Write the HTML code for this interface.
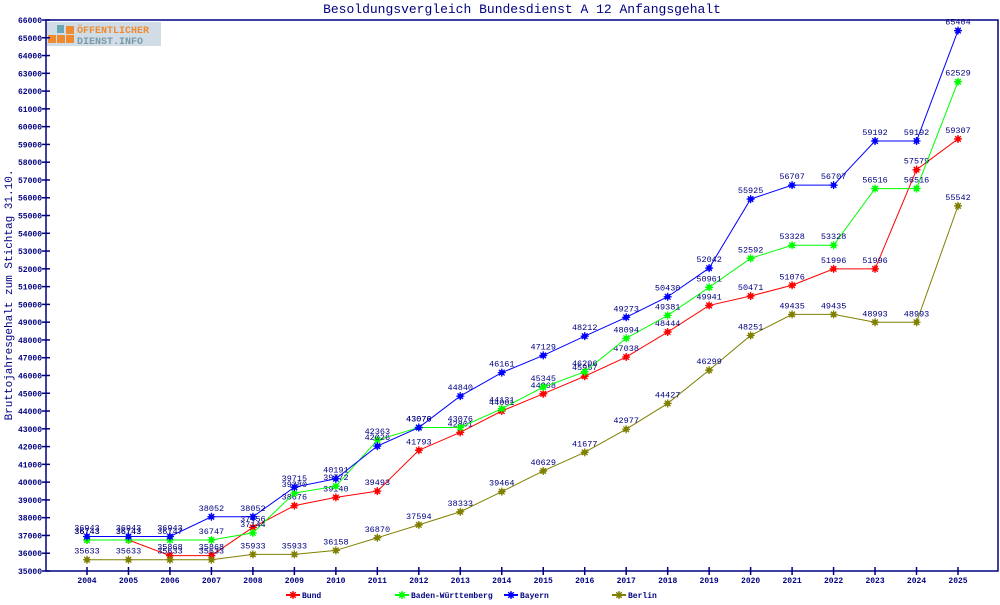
<!DOCTYPE html>
<html><head><meta charset="utf-8"><style>
body{margin:0;background:#fff;width:1000px;height:600px;overflow:hidden}
svg text{font-family:"Liberation Mono",monospace;fill:#000080}
</style></head><body>
<svg id="c" width="1000" height="600">
<text x="522" y="13" text-anchor="middle" font-size="13">Besoldungsvergleich Bundesdienst A 12 Anfangsgehalt</text>
<g>
<rect x="46" y="22" width="115" height="24" fill="#d0dde6"/>
<rect x="48" y="35" width="8" height="8" fill="#f08a30"/><rect x="57" y="35" width="8" height="8" fill="#f08a30"/><rect x="66" y="35" width="8" height="8" fill="#f08a30"/><rect x="66" y="26" width="8" height="8" fill="#f08a30"/><rect x="57" y="25" width="7" height="8" fill="#6aa8b8"/>
<text x="77" y="33" font-size="10" font-weight="bold" style="fill:#f08a30">ÖFFENTLICHER</text>
<text x="77" y="44" font-size="10" font-weight="bold" style="fill:#7a9aaa">DIENST.INFO</text>
</g>
<text transform="translate(12,295) rotate(-90)" text-anchor="middle" font-size="11">Bruttojahresgehalt zum Stichtag 31.10.</text>
<g id="axes"></g><g id="series"></g><g id="legend"></g>
</svg>
<script>
const years=["2004","2005","2006","2007","2008","2009","2010","2011","2012","2013","2014","2015","2016","2017","2018","2019","2020","2021","2022","2023","2024","2025"];
const bund=[36743,36743,35868,35868,37456,38676,39140,39493,41793,42801,44001,44968,45957,47038,48444,49941,50471,51076,51996,51996,57579,59307];
const bw=[36743,36743,36747,36747,37144,39380,39772,42363,43076,43076,44131,45345,46206,48094,49381,50961,52592,53328,53328,56516,56516,62529];
const bayern=[36943,36943,36943,38052,38052,39715,40191,42026,43070,44840,46161,47129,48212,49273,50430,52042,55925,56707,56707,59192,59192,65404];
const berlin=[35633,35633,35633,35633,35933,35933,36158,36870,37594,38333,39464,40629,41677,42977,44427,46299,48251,49435,49435,48993,48993,55542];
const seriesNames=["Bund","Baden-Württemberg","Bayern","Berlin"];
const yMin=35000,yMax=66000,yStep=1000;
const NS="http://www.w3.org/2000/svg";
const L=46,R=998,T=20,B=571,X0=87,X1=958;
const xs=i=>X0+(X1-X0)*i/(years.length-1);
const ys=v=>B-(v-yMin)/(yMax-yMin)*(B-T);
function mk(t,a,p){const e=document.createElementNS(NS,t);for(const k in a)e.setAttribute(k,a[k]);p.appendChild(e);return e;}
const ax=document.getElementById('axes');
const fr=mk('rect',{x:L,y:T,width:R-L,height:B-T,fill:'none',stroke:'#000080','stroke-width':1.5},ax);


for(let v=yMin;v<=yMax;v+=yStep){const y=ys(v);
 const tk=mk('line',{x1:L-4,x2:L+4,y1:y,y2:y,stroke:'#000080','stroke-width':1.5},ax);
 
 
 const t=mk('text',{x:L-4,y:y+3,'text-anchor':'end','font-size':8,'font-weight':'bold'},ax);t.textContent=v;
 
 }
years.forEach((yr,i)=>{const x=xs(i);
 const tk=mk('line',{x1:x,x2:x,y1:B-4,y2:B+4,stroke:'#000080','stroke-width':1.5},ax);
 
 
 const t=mk('text',{x:x,y:B+12,'text-anchor':'middle','font-size':8,'font-weight':'bold'},ax);t.textContent=yr;
 
 });
const data=[bund,bw,bayern,berlin],cols=['#ff0000','#00ff00','#0000ff','#808000'];
const sg=document.getElementById('series');
function star(g,x,y,c){mk('circle',{cx:x,cy:y,r:2.6,fill:c},g);mk('path',{d:`M${x-4} ${y}H${x+4}M${x} ${y-4}V${y+4}M${x-2.8} ${y-2.8}L${x+2.8} ${y+2.8}M${x-2.8} ${y+2.8}L${x+2.8} ${y-2.8}`,stroke:c,'stroke-width':1.3},g);}
data.forEach((d,s)=>{const g=mk('g',{},sg);
 
 
 const pl=mk('polyline',{points:d.map((v,i)=>xs(i)+','+ys(v)).join(' '),fill:'none',stroke:cols[s],'stroke-width':1},g);
 
 
 d.forEach((v,i)=>{star(g,xs(i),ys(v),cols[s]);
  const t=mk('text',{x:xs(i),y:ys(v)-6,'text-anchor':'middle','font-size':8.5},g);t.textContent=v;
  
  });});
const lg=document.getElementById('legend');const lx=[293,402,511,619];
seriesNames.forEach((n,s)=>{const g=mk('g',{},lg);
 
 
 mk('line',{x1:lx[s]-7,x2:lx[s]+7,y1:595,y2:595,stroke:cols[s],'stroke-width':2},g);star(g,lx[s],595,cols[s]);
 const t=mk('text',{x:lx[s]+9,y:598,'font-size':8,'font-weight':'bold'},g);t.textContent=n;});
</script>
</body></html>
